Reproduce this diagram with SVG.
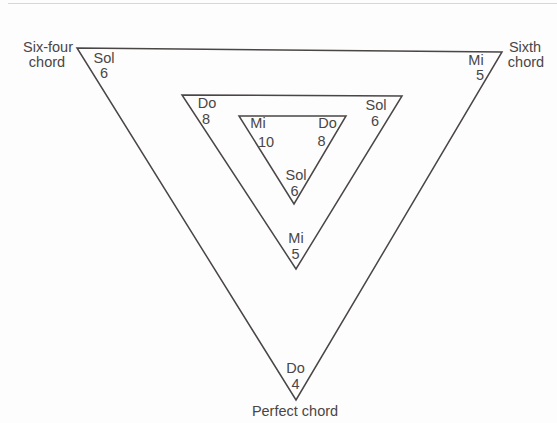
<svg xmlns="http://www.w3.org/2000/svg" width="557" height="423" viewBox="0 0 557 423">
<style>
.t{font-family:"Liberation Sans",Arial,sans-serif;font-size:14.5px;fill:#4a4646;text-anchor:middle}
.tri{fill:none;stroke:#4a4646;stroke-width:1.5;stroke-linejoin:miter}
</style>
<rect width="557" height="423" fill="#fdfdfd"/>
<line x1="8" y1="3.5" x2="557" y2="3.5" stroke="#d8d8d8" stroke-width="1"/>
<g id="connectors">
<polygon id="outer" class="tri" points="77,48 502,52 296,400"/>
<polygon id="middle" class="tri" points="182,95 402,96 296,269"/>
<polygon id="inner" class="tri" points="239,116 346,116 294,204"/>
</g>
<g id="six-four">
<text class="t" x="48" y="52">Six-four</text>
<text class="t" x="47" y="67">chord</text>
</g>
<g id="sixth">
<text class="t" x="525" y="52">Sixth</text>
<text class="t" x="526" y="67">chord</text>
</g>
<g id="perfect">
<text class="t" x="295" y="416">Perfect chord</text>
</g>
<g id="outer-sol"><text class="t" x="104" y="63">Sol</text><text class="t" x="104" y="78">6</text></g>
<g id="outer-mi"><text class="t" x="476" y="65">Mi</text><text class="t" x="480" y="80">5</text></g>
<g id="outer-do"><text class="t" x="295.5" y="373">Do</text><text class="t" x="295.5" y="389">4</text></g>
<g id="middle-do"><text class="t" x="207" y="108">Do</text><text class="t" x="206" y="124">8</text></g>
<g id="middle-sol"><text class="t" x="376" y="110">Sol</text><text class="t" x="375" y="126">6</text></g>
<g id="middle-mi"><text class="t" x="296" y="243">Mi</text><text class="t" x="295.5" y="259">5</text></g>
<g id="inner-mi"><text class="t" x="258" y="128">Mi</text><text class="t" x="266" y="147">10</text></g>
<g id="inner-do"><text class="t" x="327.5" y="128">Do</text><text class="t" x="321.5" y="146">8</text></g>
<g id="inner-sol"><text class="t" x="296" y="180">Sol</text><text class="t" x="294.5" y="196">6</text></g>
</svg>
